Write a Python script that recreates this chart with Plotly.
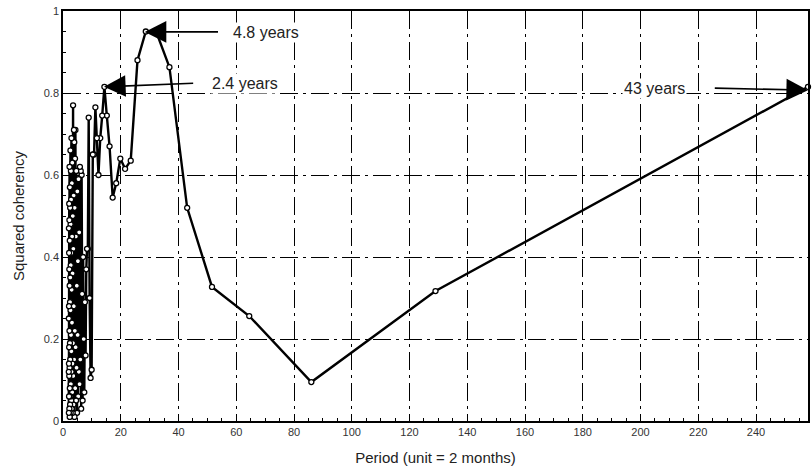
import plotly.graph_objects as go

# Record length (in 2-month units) and harmonic numbers of the spectral estimate
record_length = 258
harmonics = list(range(1, 130))

# Squared coherency for each harmonic (period = record_length / harmonic)
coherency = [
    0.815, 0.317, 0.095, 0.256, 0.327, 0.520, 0.863, 0.950, 0.950, 0.880,
    0.635, 0.615, 0.640, 0.580, 0.545, 0.670, 0.745, 0.815, 0.745, 0.690,
    0.600, 0.690, 0.765, 0.650, 0.650, 0.125, 0.105, 0.300, 0.740, 0.420,
    0.420, 0.370, 0.160, 0.290, 0.070, 0.200, 0.400, 0.050, 0.310, 0.600,
    0.030, 0.610, 0.150, 0.620, 0.090, 0.460, 0.120, 0.590, 0.060, 0.390,
    0.210, 0.560, 0.020, 0.330, 0.130, 0.610, 0.050, 0.450, 0.180, 0.710,
    0.080, 0.640, 0.220, 0.520, 0.010, 0.680, 0.150, 0.710, 0.280, 0.550,
    0.040, 0.420, 0.110, 0.770, 0.190, 0.500, 0.020, 0.360, 0.140, 0.630,
    0.070, 0.450, 0.240, 0.580, 0.030, 0.320, 0.120, 0.690, 0.170, 0.410,
    0.050, 0.540, 0.210, 0.610, 0.090, 0.380, 0.020, 0.480, 0.270, 0.660,
    0.060, 0.350, 0.150, 0.520, 0.040, 0.290, 0.190, 0.570, 0.080, 0.440,
    0.010, 0.330, 0.130, 0.620, 0.220, 0.490, 0.030, 0.370, 0.110, 0.530,
    0.180, 0.410, 0.060, 0.280, 0.140, 0.470, 0.020, 0.250, 0.120,
]
periods = [record_length / k for k in harmonics]

x_ticks = [0, 20, 40, 60, 80, 100, 120, 140, 160, 180, 200, 220, 240]
y_ticks = [0, 0.2, 0.4, 0.6, 0.8, 1]
y_tick_text = ["0", "0.2", "0.4", "0.6", "0.8", "1"]

# Annotated peaks: label, tip (period, value), tail (period, value), label position
peak_labels = ["4.8 years", "2.4 years", "43 years"]
peak_tip_x = [28.3, 14.2, 258]
peak_tip_y = [0.949, 0.815, 0.807]
peak_tail_x = [54.2, 45.6, 225.2]
peak_tail_y = [0.949, 0.824, 0.812]
label_x = [70.3, 63.0, 204.8]
label_y = [0.947, 0.824, 0.812]

FONT = "Liberation Sans, Arial, Helvetica, sans-serif"

fig = go.Figure()
fig.add_trace(go.Scatter(
    x=periods, y=coherency, mode="lines+markers",
    line=dict(color="black", width=2.4),
    marker=dict(symbol="circle", size=5, color="white",
                line=dict(color="black", width=1.3)),
    cliponaxis=False, showlegend=False,
))

annotations = []
for i in range(len(peak_labels)):
    annotations.append(dict(
        x=peak_tip_x[i], y=peak_tip_y[i], ax=peak_tail_x[i], ay=peak_tail_y[i],
        xref="x", yref="y", axref="x", ayref="y", text="",
        showarrow=True, arrowhead=2, arrowsize=2.7, arrowwidth=1.6,
        arrowcolor="black",
    ))
    annotations.append(dict(
        x=label_x[i], y=label_y[i], xref="x", yref="y", text=peak_labels[i],
        showarrow=False, bgcolor="white",
        font=dict(family=FONT, size=16, color="#222"),
    ))

axis_common = dict(
    showline=True, linecolor="black", linewidth=1.5, mirror=True,
    ticks="inside", ticklen=5, tickcolor="black", tickwidth=1.2,
    showgrid=True, gridcolor="black", gridwidth=1.4,
    griddash="18px,5px,3px,5px",
    zeroline=False,
    tickfont=dict(family=FONT, size=11, color="#333"),
    title_font=dict(family=FONT, size=15, color="#222"),
)

fig.update_layout(
    width=812, height=470,
    margin=dict(l=63, r=2, t=11, b=49),
    paper_bgcolor="white", plot_bgcolor="white",
    font=dict(family=FONT, color="#222"),
    annotations=annotations,
    xaxis=dict(
        range=[0, 258], tickvals=x_ticks,
        minor=dict(dtick=5, ticks="inside", ticklen=3, tickcolor="black", showgrid=False),
        title=dict(text="Period (unit = 2 months)", standoff=16),
        **axis_common,
    ),
    yaxis=dict(
        range=[0, 1], tickvals=y_ticks, ticktext=y_tick_text,
        minor=dict(dtick=0.05, ticks="inside", ticklen=3, tickcolor="black", showgrid=False),
        title=dict(text="Squared coherency", standoff=16),
        **axis_common,
    ),
)

fig.write_html("out.html")
